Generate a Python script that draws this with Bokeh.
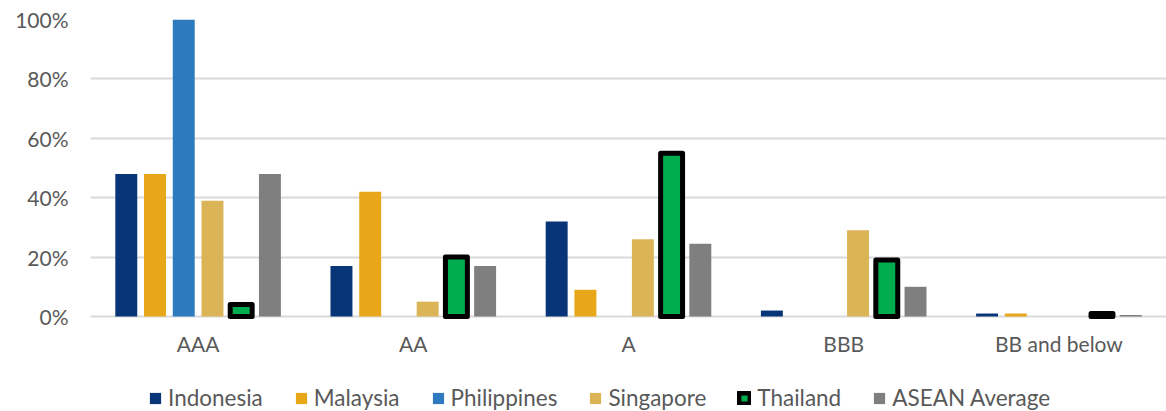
from bokeh.plotting import figure
from bokeh.models import (ColumnDataSource, FactorRange, Range1d, Legend, LegendItem,
                          NumeralTickFormatter, FixedTicker)
from bokeh.core.properties import value
from bokeh.transform import dodge
from bokeh.embed import file_html
from bokeh.resources import INLINE

# Share of rated bonds by credit rating bucket
ratings = ["AAA", "AA", "A", "BBB", "BB and below"]
indonesia = [0.48, 0.17, 0.32, 0.02, 0.01]
malaysia = [0.48, 0.42, 0.09, 0.00, 0.01]
philippines = [1.00, 0.00, 0.00, 0.00, 0.00]
singapore = [0.39, 0.05, 0.26, 0.29, 0.00]
thailand = [0.04, 0.20, 0.55, 0.19, 0.01]
asean_average = [0.48, 0.17, 0.245, 0.10, 0.005]

series_names = ["Indonesia", "Malaysia", "Philippines", "Singapore", "Thailand", "ASEAN Average"]
y_ticks = [0.0, 0.2, 0.4, 0.6, 0.8, 1.0]

colors = ["#073578", "#E7A718", "#2D7BBE", "#DBB457", "#00AD4E", "#7F7F7F"]
FONT = "Lato"
TEXT = "#595959"

source = ColumnDataSource(data=dict(
    rating=ratings,
    s0=indonesia, s1=malaysia, s2=philippines,
    s3=singapore, s4=thailand, s5=asean_average,
))

# The frame runs down to the bottom edge; the space under zero holds the
# category labels and the legend.
p = figure(
    x_range=FactorRange(*ratings, range_padding=0),
    y_range=Range1d(-95 / 297, 1),
    frame_width=1076, frame_height=392,
    output_backend="svg", toolbar_location=None,
    min_border_left=90, min_border_right=0, min_border_top=19, min_border_bottom=0,
)
p.outline_line_color = None
p.background_fill_color = "white"
p.border_fill_color = "white"

step = 0.1335
bar_w = 0.102
items = []
for i, name in enumerate(series_names):
    off = (i - 2.5) * step
    if name == "Thailand":
        r = p.vbar(x=dodge("rating", off, range=p.x_range), top="s%d" % i, width=bar_w,
                   source=source, fill_color=colors[i], line_color="black",
                   line_width=5, line_join="round")
    else:
        r = p.vbar(x=dodge("rating", off, range=p.x_range), top="s%d" % i, width=bar_w,
                   source=source, fill_color=colors[i], line_color=None)
    items.append(LegendItem(label=name, renderers=[r]))

# Category labels under the zero line
label_y = -0.092
p.text(x="rating", y=label_y, text="rating", source=source,
       text_align="center", text_baseline="middle",
       text_font=value(FONT), text_font_size="21px", text_color=TEXT)

p.xaxis.visible = False
p.xgrid.grid_line_color = None
p.ygrid.grid_line_color = "#D9D9D9"
p.ygrid.grid_line_width = 2
p.yaxis.ticker = FixedTicker(ticks=y_ticks)
p.yaxis.formatter = NumeralTickFormatter(format="0%")
p.yaxis.axis_line_color = None
p.yaxis.major_tick_line_color = None
p.yaxis.minor_tick_line_color = None
p.yaxis.major_label_text_font = FONT
p.yaxis.major_label_text_color = TEXT
p.yaxis.major_label_text_font_size = "21px"
p.yaxis.major_label_standoff = 22
p.yaxis.major_tick_out = 0

legend = Legend(items=items, orientation="horizontal", location=(58, 0),
                glyph_width=14, glyph_height=14, label_standoff=6, spacing=31,
                padding=0, margin=0, border_line_color=None,
                label_text_font=FONT, label_text_font_size="22.5px",
                label_text_color=TEXT, background_fill_alpha=0)
p.add_layout(legend, "center")

open("out.html", "w").write(file_html(p, INLINE))
